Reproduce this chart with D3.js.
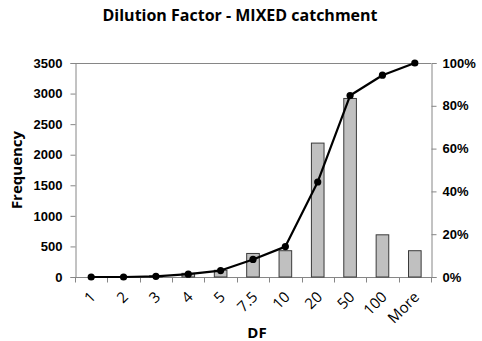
<!DOCTYPE html>
<html>
<head>
<meta charset="utf-8">
<script src="https://cdn.jsdelivr.net/npm/d3@7"></script>
<style>
  html, body { margin: 0; padding: 0; background: #fff; }
  svg { display: block; font-family: "Open Sans", "DejaVu Sans", sans-serif; }
</style>
</head>
<body>
<svg id="chart" width="482" height="341"></svg>
<script>
// Dilution factor bins and counts
const categories = ["1", "2", "3", "4", "5", "7.5", "10", "20", "50", "100", "More"];
const frequency = [0, 0, 20, 60, 110, 385, 430, 2190, 2920, 690, 430];
// Cumulative share of samples, in percent
const cumulative = [0, 0, 0.3, 1.3, 3.0, 8.2, 14.2, 44.4, 84.8, 94.3, 100];
const freqTicks = [0, 500, 1000, 1500, 2000, 2500, 3000, 3500];
const pctTicks = [0, 20, 40, 60, 80, 100];

const svg = d3.select("#chart");
const m = { left: 75, right: 431, top: 63, bottom: 277 };
const axisColor = "#868686";

const x = d3.scaleBand().domain(categories).range([m.left, m.right]);
const yL = d3.scaleLinear().domain([0, 3500]).range([m.bottom, m.top]);
const yR = d3.scaleLinear().domain([0, 100]).range([m.bottom, m.top]);

// top border of the plot area
svg.append("line")
  .attr("x1", m.left).attr("x2", m.right)
  .attr("y1", m.top + 0.5).attr("y2", m.top + 0.5)
  .attr("stroke", axisColor);

// left axis
const gL = svg.append("g").attr("transform", `translate(${m.left + 0.5},0)`)
  .call(d3.axisLeft(yL).tickValues(freqTicks).tickSize(5).tickPadding(8).tickFormat(d3.format("d")));
// right axis
const gR = svg.append("g").attr("transform", `translate(${m.right + 0.5},0)`)
  .call(d3.axisRight(yR).tickValues(pctTicks).tickSize(5).tickPadding(6).tickFormat(d => d + "%"));
[gL, gR].forEach(g => {
  g.select(".domain").attr("stroke", axisColor);
  g.selectAll(".tick line").attr("stroke", axisColor);
  g.selectAll(".tick text").attr("fill", "#000").style("font-size", "13px").style("font-weight", "bold");
});

// bottom axis: ticks sit between categories
const gB = svg.append("g").attr("transform", `translate(0,${m.bottom + 0.5})`);
gB.append("line").attr("x1", m.left).attr("x2", m.right + 1).attr("stroke", axisColor);
const bounds = d3.range(categories.length + 1).map(i => m.left + i * x.step());
gB.selectAll("line.tk").data(bounds).join("line").attr("class", "tk")
  .attr("x1", d => Math.round(d) + 0.5).attr("x2", d => Math.round(d) + 0.5)
  .attr("y1", 0).attr("y2", 5).attr("stroke", axisColor);
gB.selectAll("text").data(categories).join("text")
  .attr("transform", d => `translate(${x(d) + x.bandwidth() / 2 - 3},${12}) rotate(-45)`)
  .attr("text-anchor", "end")
  .attr("dy", "0.8em")
  .style("font-size", "15px")
  .text(d => d);

// bars
const bw = x.bandwidth() * 0.39;
svg.append("g").selectAll("rect").data(categories).join("rect")
  .attr("x", (d, i) => x(d) + x.bandwidth() / 2 - bw / 2)
  .attr("y", (d, i) => yL(frequency[i]))
  .attr("width", bw)
  .attr("height", (d, i) => yL(0) - yL(frequency[i]))
  .attr("fill", "#c0c0c0")
  .attr("stroke", "#3a3a3a")
  .attr("stroke-width", 1);

// cumulative line
const pts = categories.map((c, i) => [x(c) + x.bandwidth() / 2, yR(cumulative[i])]);
svg.append("path").datum(pts)
  .attr("d", d3.line())
  .attr("fill", "none").attr("stroke", "#000").attr("stroke-width", 2.2)
  .attr("stroke-linejoin", "round");
svg.append("g").selectAll("circle").data(pts).join("circle")
  .attr("cx", d => d[0]).attr("cy", d => d[1]).attr("r", 3.6).attr("fill", "#000");

// titles
svg.append("text").attr("x", 240).attr("y", 21).attr("text-anchor", "middle")
  .style("font-size", "16px").style("font-weight", "bold").text("Dilution Factor - MIXED catchment");
svg.append("text").attr("x", 257).attr("y", 338).attr("text-anchor", "middle")
  .style("font-size", "15px").style("font-weight", "bold").text("DF");
svg.append("text").attr("transform", "translate(22,170) rotate(-90)").attr("text-anchor", "middle")
  .style("font-size", "15px").style("font-weight", "bold").text("Frequency");
</script>
</body>
</html>
